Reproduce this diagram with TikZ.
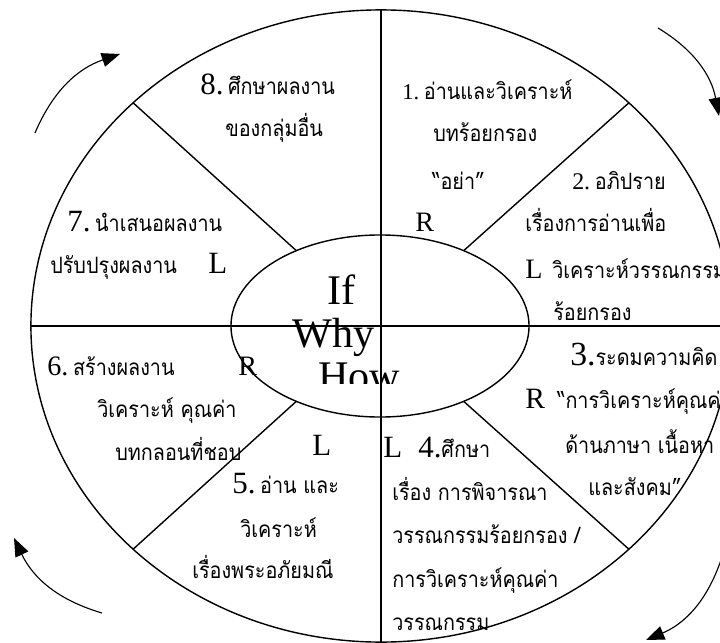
\documentclass[tikz,border=0pt]{standalone}
\usepackage{fontspec}
\setmainfont{Liberation Serif}
\newfontfamily\thaifont[Script=Thai,FakeStretch=0.88]{Loma}
\usetikzlibrary{shapes.geometric,arrows.meta,backgrounds}
\pgfdeclarelayer{edgelayer}
\pgfdeclarelayer{nodelayer}
\pgfsetlayers{background,edgelayer,nodelayer,main}
\newcommand{\tha}[1]{{\thaifont\fontsize{16}{16}\selectfont #1}}
\newcommand{\lat}[2]{{\fontsize{#1}{#1}\selectfont #2}}
\tikzstyle{none}=[inner sep=0mm]
\tikzstyle{txt}=[inner sep=0mm,anchor=base west]
\tikzstyle{ring}=[draw=black,line width=1pt,shape=ellipse,inner sep=0mm,outer sep=0mm]
\tikzstyle{spoke}=[line width=1pt]
\tikzstyle{turn}=[line width=0.8pt,-{Triangle[length=13pt,width=10pt]}]

\begin{document}
\begin{tikzpicture}[x=0.025cm,y=-0.025cm]
	\useasboundingbox (0,0) rectangle (720,642);
	\clip (0,0) rectangle (720,642);
	\begin{pgfonlayer}{nodelayer}
		\node [style=ring,minimum width=17.5cm,minimum height=15.8cm] (outer) at (381,326) {};
		\node [style=ring,minimum width=7.45cm,minimum height=4.55cm] (inner) at (380,326) {};
		\node [style=txt] (n8a) at (200,95) {\lat{22}{8.} \tha{ศึกษาผลงาน}};
		\node [style=txt] (n8b) at (225,137) {\tha{ของกลุ่มอื่น}};
		\node [style=txt] (n1a) at (402,100) {\lat{16}{1.} \tha{อ่านและวิเคราะห์}};
		\node [style=txt] (n1b) at (433,142) {\tha{บทร้อยกรอง}};
		\node [style=txt] (n1c) at (432,190) {\tha{“อย่า”}};
		\node [style=txt] (r1) at (415,232) {\lat{20}{R}};
		\node [style=txt] (n2a) at (572,190) {\lat{17}{2.} \tha{อภิปราย}};
		\node [style=txt] (n2b) at (525,232) {\tha{เรื่องการอ่านเพื่อ}};
		\node [style=txt] (l2) at (525,278) {\lat{20}{L}};
		\node [style=txt] (n2c) at (552,278) {\tha{วิเคราะห์วรรณกรรม}};
		\node [style=txt] (n2d) at (553,320) {\tha{ร้อยกรอง}};
		\node [style=txt] (n3a) at (570,365) {\lat{24}{3.}\tha{ระดมความคิด}};
		\node [style=txt] (r3) at (525,408) {\lat{21}{R}};
		\node [style=txt] (n3b) at (557,408) {\tha{“การวิเคราะห์คุณค่า}};
		\node [style=txt] (n3c) at (565,453) {\tha{ด้านภาษา เนื้อหา}};
		\node [style=txt] (n3d) at (588,495) {\tha{และสังคม”}};
		\node [style=txt] (l4) at (383,457) {\lat{22}{L}};
		\node [style=txt] (n4a) at (418,457) {\lat{22}{4.}\tha{ศึกษา}};
		\node [style=txt] (n4b) at (392,500) {\tha{เรื่อง การพิจารณา}};
		\node [style=txt] (n4c) at (392,543) {\tha{วรรณกรรมร้อยกรอง /}};
		\node [style=txt] (n4d) at (392,587) {\tha{การวิเคราะห์คุณค่า}};
		\node [style=txt] (n4e) at (392,630) {\tha{วรรณกรรม}};
		\node [style=txt] (l5) at (312,455) {\lat{22}{L}};
		\node [style=txt] (n5a) at (232,493) {\lat{22}{5.} \tha{อ่าน และ}};
		\node [style=txt] (n5b) at (240,537) {\tha{วิเคราะห์}};
		\node [style=txt] (n5c) at (192,578) {\tha{เรื่องพระอภัยมณี}};
		\node [style=txt] (n6a) at (47,375) {\lat{20}{6.} \tha{สร้างผลงาน}};
		\node [style=txt] (r6) at (238,375) {\lat{20}{R}};
		\node [style=txt] (n6b) at (97,417) {\tha{วิเคราะห์ คุณค่า}};
		\node [style=txt] (n6c) at (115,460) {\tha{บทกลอนที่ชอบ}};
		\node [style=txt] (n7a) at (67,232) {\lat{22}{7.} \tha{นำเสนอผลงาน}};
		\node [style=txt] (n7b) at (50,273) {\tha{ปรับปรุงผลงาน}};
		\node [style=txt] (l7) at (208,273) {\lat{22}{L}};
		\node [style=txt] (cif) at (327,304) {\lat{30}{If}};
		\node [style=txt] (cwhy) at (292,347) {\lat{30}{Why}};
		\begin{scope}
			\clip (0,0) rectangle (720,383);
			\node [style=txt] (chow) at (318,390) {\lat{30}{How}};
		\end{scope}
		\coordinate (tl1) at (35,133);
		\coordinate (tl2) at (120,54);
		\coordinate (tr1) at (658,28);
		\coordinate (tr2) at (719,116);
		\coordinate (br1) at (721,560);
		\coordinate (br2) at (646,640);
		\coordinate (bl1) at (102,613);
		\coordinate (bl2) at (14,538);
	\end{pgfonlayer}
	\begin{pgfonlayer}{edgelayer}
		\draw [style=spoke] (outer.north) to (outer.south);
		\draw [style=spoke] (outer.west) to (outer.east);
		\draw [style=spoke] (inner.138) to (outer.138);
		\draw [style=spoke] (inner.42) to (outer.42);
		\draw [style=spoke] (inner.222) to (outer.222);
		\draw [style=spoke] (inner.318) to (outer.318);
		\draw [style=turn] (tl1) to [bend left=24] (tl2);
		\draw [style=turn] (tr1) to [bend left=24] (tr2);
		\draw [style=turn] (br1) to [bend left=24] (br2);
		\draw [style=turn] (bl1) to [bend left=24] (bl2);
	\end{pgfonlayer}
\end{tikzpicture}
\end{document}
